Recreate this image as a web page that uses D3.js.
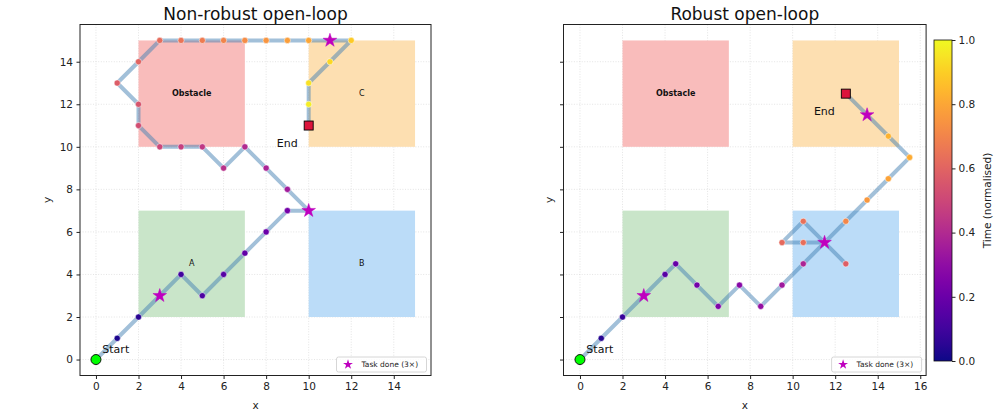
<!DOCTYPE html>
<html><head><meta charset="utf-8">
<script src="https://cdn.jsdelivr.net/npm/d3@7"></script>
<style>body{margin:0;background:#fff}svg{font-family:"DejaVu Sans",sans-serif}</style>
</head><body><svg id="c" width="996" height="415"></svg>
<script>
// ---------- data ----------
const panelTitles = ["Non-robust open-loop", "Robust open-loop"];
const xTicksLeft = [0, 2, 4, 6, 8, 10, 12, 14];
const xTicksRight = [0, 2, 4, 6, 8, 10, 12, 14, 16];
const yTicks = [0, 2, 4, 6, 8, 10, 12, 14];
const cbTicks = [0, 0.2, 0.4, 0.6, 0.8, 1.0];

const zoneNames = ["Obstacle", "A", "B", "C"];
const zoneX0 = [2, 2, 10, 10];
const zoneX1 = [7, 7, 15, 15];
const zoneY0 = [10, 2, 2, 10];
const zoneY1 = [15, 7, 7, 15];
const leftZoneLabels = ["Obstacle", "A", "B", "C"];
const rightZoneLabels = ["Obstacle", "", "", ""];

const leftX = [0,1,2,3,4,5,6,7,8,9,10,9,8,7,6,5,4,3,2,2,1,2,3,4,5,6,7,8,9,10,11,12,11,10,10,10];
const leftY = [0,1,2,3,4,3,4,5,6,7,7,8,9,10,9,10,10,10,11,12,13,14,15,15,15,15,15,15,15,15,15,15,14,13,12,11];
const leftT = [0,.025,.05,.075,.1,.125,.15,.175,.2,.225,.25,.35,.375,.4,.425,.45,.475,.5,.525,.55,.575,.6,.625,.65,.675,.7,.725,.75,.775,.8,.83,.89,.92,.945,.97,1.0];
const leftTaskX = [3, 10, 11];
const leftTaskY = [3, 7, 15];

const rightX = [0,1,2,3,4,4.5,5.5,6.5,7.5,8.5,9.5,10.5,11.5,12.5,11.5,10.5,9.5,10.5,11.5,12.5,13.5,14.5,15.5,14.5,13.5,12.5];
const rightY = [0,1,2,3,4,4.5,3.5,2.5,3.5,2.5,3.5,4.5,5.5,4.5,5.5,5.5,5.5,6.5,5.5,6.5,7.5,8.5,9.5,10.5,11.5,12.5];
const rightT = [0,.04,.08,.11,.15,.19,.22,.25,.28,.31,.34,.38,.41,.58,.6,.63,.62,.64,.67,.71,.76,.79,.81,.83,.87,1.0];
const rightTaskX = [3, 11.5, 13.5];
const rightTaskY = [3, 5.5, 11.5];

const legendText = "Task done (3\u00d7)";
const cbLabel = "Time (normalised)";
const axisLabelX = "x", axisLabelY = "y";

// ---------- styles ----------
const zoneFill = ["#f9bcbb", "#c9e5c9", "#bbdcf8", "#fddfb1"];
const svg = d3.select("#c");
const yScale = d3.scaleLinear().domain([-0.75, 15.75]).range([375.5, 24.5]);

const panels = [
  {title: panelTitles[0], xs: d3.scaleLinear().domain([-0.75, 15.75]).range([80, 431]), xt: xTicksLeft,
   px: leftX, py: leftY, pt: leftT, tx: leftTaskX, ty: leftTaskY, labels: leftZoneLabels, yLabels: true, ylabX: 47},
  {title: panelTitles[1], xs: d3.scaleLinear().domain([-0.775, 16.275]).range([563.5, 926.1]), xt: xTicksRight,
   px: rightX, py: rightY, pt: rightT, tx: rightTaskX, ty: rightTaskY, labels: rightZoneLabels, yLabels: false, ylabX: 549}
];

const star = (r) => d3.symbol().type(d3.symbolStar).size(r * r / 0.8908130915292852)();

panels.forEach(p => {
  const g = svg.append("g");
  const xs = p.xs, ys = yScale;
  const [L, R] = xs.range(); const [B, T] = ys.range();
  // grid
  const grid = g.append("g").attr("stroke", "#d8d8d8").attr("stroke-width", 0.7).attr("stroke-dasharray", "1,1.6");
  p.xt.forEach(v => grid.append("line").attr("x1", xs(v)).attr("x2", xs(v)).attr("y1", T).attr("y2", B));
  yTicks.forEach(v => grid.append("line").attr("x1", L).attr("x2", R).attr("y1", ys(v)).attr("y2", ys(v)));
  // zones
  zoneNames.forEach((n, i) => {
    g.append("rect").attr("x", xs(zoneX0[i])).attr("y", ys(zoneY1[i]))
      .attr("width", xs(zoneX1[i]) - xs(zoneX0[i])).attr("height", ys(zoneY0[i]) - ys(zoneY1[i]))
      .attr("fill", zoneFill[i]);
    if (p.labels[i]) {
      g.append("text").attr("x", xs((zoneX0[i] + zoneX1[i]) / 2)).attr("y", ys((zoneY0[i] + zoneY1[i]) / 2))
        .attr("text-anchor", "middle").attr("dominant-baseline", "central")
        .attr("font-size", 8).attr("font-weight", i === 0 ? "bold" : "normal").attr("fill", "#111").text(p.labels[i]);
    }
  });
  // path
  const pts = p.px.map((x, i) => ({x, y: p.py[i], t: p.pt[i]}));
  g.append("path").attr("d", d3.line().x(d => xs(d.x)).y(d => ys(d.y))(pts))
    .attr("fill", "none").attr("stroke", "steelblue").attr("stroke-opacity", 0.5)
    .attr("stroke-width", 4).attr("stroke-linejoin", "round");
  g.selectAll("circle.pt").data(pts).join("circle").attr("class", "pt")
    .attr("cx", d => xs(d.x)).attr("cy", d => ys(d.y)).attr("r", 3.1)
    .attr("fill", d => d3.interpolatePlasma(d.t)).attr("stroke", "#fff").attr("stroke-width", 0.5);
  // tasks
  p.tx.forEach((x, i) => {
    g.append("path").attr("d", star(7.2)).attr("transform", `translate(${xs(x)},${ys(p.ty[i])})`)
      .attr("fill", "#bf00bf").attr("stroke", "#bf00bf").attr("stroke-width", 0.5);
  });
  // start
  g.append("circle").attr("cx", xs(p.px[0])).attr("cy", ys(p.py[0])).attr("r", 5)
    .attr("fill", "#00ff00").attr("stroke", "#000").attr("stroke-width", 0.9);
  g.append("text").attr("x", xs(p.px[0] + 0.3)).attr("y", ys(p.py[0] + 0.3)).attr("font-size", 11).attr("fill", "#111").text("Start");
  // end
  const n = p.px.length - 1;
  g.append("rect").attr("x", xs(p.px[n]) - 4.5).attr("y", ys(p.py[n]) - 4.5).attr("width", 9).attr("height", 9)
    .attr("fill", "#dc143c").attr("stroke", "#000").attr("stroke-width", 0.9);
  g.append("text").attr("x", xs(p.px[n] - 1.5)).attr("y", ys(p.py[n] - 1.0)).attr("font-size", 11).attr("fill", "#111").text("End");
  // frame
  g.append("rect").attr("x", L).attr("y", T).attr("width", R - L).attr("height", B - T)
    .attr("fill", "none").attr("stroke", "#222").attr("stroke-width", 1);
  // x axis
  const xa = g.append("g").attr("transform", `translate(0,${B})`)
    .call(d3.axisBottom(xs).tickValues(p.xt).tickSize(3.5).tickPadding(3.5).tickFormat(d3.format("d")));
  xa.select(".domain").remove();
  xa.selectAll("text").attr("font-size", 10.5).attr("font-family", "DejaVu Sans").attr("fill", "#222");
  xa.selectAll("line").attr("stroke", "#222");
  const ya = g.append("g").attr("transform", `translate(${L},0)`)
    .call(d3.axisLeft(ys).tickValues(yTicks).tickSize(3.5).tickPadding(3.5).tickFormat(p.yLabels ? d3.format("d") : () => ""));
  ya.select(".domain").remove();
  ya.selectAll("text").attr("font-size", 10.5).attr("font-family", "DejaVu Sans").attr("fill", "#222");
  ya.selectAll("line").attr("stroke", "#222");
  // labels
  g.append("text").attr("x", (L + R) / 2).attr("y", 409).attr("text-anchor", "middle").attr("font-size", 10.5).attr("fill", "#222").text(axisLabelX);
  g.append("text").attr("transform", `translate(${p.ylabX},${(T + B) / 2}) rotate(-90)`).attr("text-anchor", "middle")
    .attr("dominant-baseline", "central").attr("font-size", 10.5).attr("fill", "#222").text(axisLabelY);
  g.append("text").attr("x", (L + R) / 2).attr("y", 19.5).attr("text-anchor", "middle").attr("font-size", 17).attr("fill", "#111").text(p.title);
  // legend
  const lw = 90, lh = 15, lx = R - 4.5 - lw, ly = B - 3.5 - lh;
  g.append("rect").attr("x", lx).attr("y", ly).attr("width", lw).attr("height", lh).attr("rx", 2)
    .attr("fill", "#fff").attr("fill-opacity", 0.8).attr("stroke", "#ccc").attr("stroke-width", 0.8);
  g.append("path").attr("d", star(5.2)).attr("transform", `translate(${lx + 11.5},${ly + lh / 2})`).attr("fill", "#bf00bf");
  g.append("text").attr("x", lx + 25).attr("y", ly + lh / 2).attr("dominant-baseline", "central")
    .attr("font-size", 7.5).attr("fill", "#222").text(legendText);
});

// colorbar
const cbS = d3.scaleLinear().domain([0, 1]).range([361, 40]);
const defs = svg.append("defs");
const grad = defs.append("linearGradient").attr("id", "pl").attr("x1", 0).attr("y1", 1).attr("x2", 0).attr("y2", 0);
d3.range(0, 1.0001, 0.05).forEach(v => grad.append("stop").attr("offset", v).attr("stop-color", d3.interpolatePlasma(v)));
svg.append("rect").attr("x", 934).attr("y", 40).attr("width", 18).attr("height", 321).attr("fill", "url(#pl)")
  .attr("stroke", "#111").attr("stroke-width", 0.8);
const ca = svg.append("g").attr("transform", "translate(952,0)")
  .call(d3.axisRight(cbS).tickValues(cbTicks).tickSize(3.5).tickPadding(3).tickFormat(d3.format(".1f")));
ca.select(".domain").remove();
ca.selectAll("text").attr("font-size", 10.5).attr("font-family", "DejaVu Sans").attr("fill", "#222");
ca.selectAll("line").attr("stroke", "#222");
svg.append("text").attr("transform", "translate(987,200.5) rotate(-90)").attr("text-anchor", "middle")
  .attr("dominant-baseline", "central").attr("font-size", 10.5).attr("fill", "#222").text(cbLabel);
</script></body></html>
